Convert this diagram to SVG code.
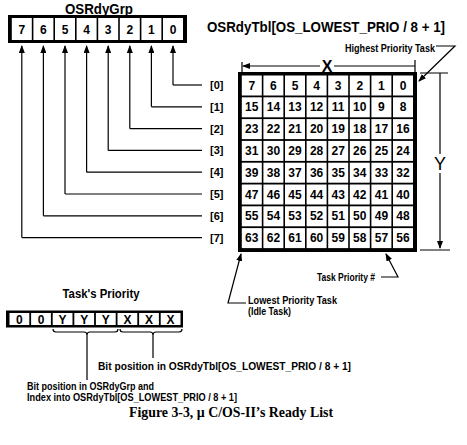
<svg xmlns="http://www.w3.org/2000/svg" width="467" height="445" viewBox="0 0 467 445">
<defs>
<marker id="ah" markerWidth="8" markerHeight="6" refX="7" refY="3" orient="auto" markerUnits="userSpaceOnUse">
<path d="M0,0 L8,3 L0,6 z" fill="#000"/>
</marker>
<style>
.t{font-family:"Liberation Sans",Arial,sans-serif;font-weight:bold;fill:#000}
.c{font-family:"Liberation Sans",Arial,sans-serif;font-weight:bold;font-size:12px;text-anchor:middle;fill:#000}
.l{font-family:"Liberation Sans",Arial,sans-serif;font-weight:bold;font-size:11px;fill:#000}
.ln{fill:none;stroke:#000;stroke-width:1.2}
.cell{fill:#fff}
</style>
</defs>
<rect width="467" height="445" fill="#fff"/>

<g id="osrdygrp">
<text class="t" x="99" y="14" font-size="15" text-anchor="middle" textLength="68" lengthAdjust="spacingAndGlyphs">OSRdyGrp</text>
<rect x="8" y="15" width="179" height="28" fill="#000"/>
<rect class="cell" x="11.8" y="18" width="20" height="22"/>
<rect class="cell" x="33.4" y="18" width="20" height="22"/>
<rect class="cell" x="55" y="18" width="20" height="22"/>
<rect class="cell" x="76.6" y="18" width="20" height="22"/>
<rect class="cell" x="98.2" y="18" width="20" height="22"/>
<rect class="cell" x="119.8" y="18" width="20" height="22"/>
<rect class="cell" x="141.4" y="18" width="20" height="22"/>
<rect class="cell" x="163" y="18" width="20" height="22"/>
<text class="c" x="21.8" y="34">7</text>
<text class="c" x="43.4" y="34">6</text>
<text class="c" x="65" y="34">5</text>
<text class="c" x="86.6" y="34">4</text>
<text class="c" x="108.2" y="34">3</text>
<text class="c" x="129.8" y="34">2</text>
<text class="c" x="151.4" y="34">1</text>
<text class="c" x="173" y="34">0</text>
</g>

<g id="connectors">
<path class="ln" d="M173,85 V46" marker-end="url(#ah)"/><path class="ln" d="M173,85 H202"/>
<path class="ln" d="M151.4,106.8 V46" marker-end="url(#ah)"/><path class="ln" d="M151.4,106.8 H202"/>
<path class="ln" d="M129.8,128.6 V46" marker-end="url(#ah)"/><path class="ln" d="M129.8,128.6 H202"/>
<path class="ln" d="M108.2,150.4 V46" marker-end="url(#ah)"/><path class="ln" d="M108.2,150.4 H202"/>
<path class="ln" d="M86.6,172.2 V46" marker-end="url(#ah)"/><path class="ln" d="M86.6,172.2 H202"/>
<path class="ln" d="M65,194 V46" marker-end="url(#ah)"/><path class="ln" d="M65,194 H202"/>
<path class="ln" d="M43.4,215.8 V46" marker-end="url(#ah)"/><path class="ln" d="M43.4,215.8 H202"/>
<path class="ln" d="M21.8,237.6 V46" marker-end="url(#ah)"/><path class="ln" d="M21.8,237.6 H202"/>

<path class="ln" d="M415,66 H243" marker-end="url(#ah)"/>
<path class="ln" d="M242,62 V72 M415,60 V72"/>
<path class="ln" d="M420,73 H448 M420,250 H450"/>
<path class="ln" d="M440,73 V154"/>
<path class="ln" d="M440,173 V248" marker-end="url(#ah)"/>
<path class="ln" d="M436,46 H455 L419,81" marker-end="url(#ah)"/>
<path class="ln" d="M246,303 H228 L241,254" marker-end="url(#ah)"/>
<path class="ln" d="M381,277 H398 L386,254" marker-end="url(#ah)"/>
<path class="ln" d="M53,329 Q53,332 56,332 H84 Q87,332 87,335 Q87,332 90,332 H115 Q118,332 118,329"/>
<path class="ln" d="M120,329 Q120,332 123,332 H150 Q153,332 153,335 Q153,332 156,332 H179 Q182,332 182,329"/>
<path class="ln" d="M87,335 V380 M153,335 V358"/>
</g>

<g id="row-labels">
<text class="l" x="210" y="89">[0]</text>
<text class="l" x="210" y="110.8">[1]</text>
<text class="l" x="210" y="132.6">[2]</text>
<text class="l" x="210" y="154.4">[3]</text>
<text class="l" x="210" y="176.2">[4]</text>
<text class="l" x="210" y="198">[5]</text>
<text class="l" x="210" y="219.8">[6]</text>
<text class="l" x="210" y="241.6">[7]</text>
</g>

<g id="osrdytbl">
<text class="t" x="207" y="32" font-size="14.5" textLength="238" lengthAdjust="spacingAndGlyphs">OSRdyTbl[OS_LOWEST_PRIO / 8 + 1]</text>
<rect x="238" y="72" width="179" height="180" fill="#000"/>
<g fill="#fff">
<rect x="241.8" y="75.5" width="20" height="20"/><rect x="263.4" y="75.5" width="20" height="20"/><rect x="285" y="75.5" width="20" height="20"/><rect x="306.6" y="75.5" width="20" height="20"/><rect x="328.2" y="75.5" width="20" height="20"/><rect x="349.8" y="75.5" width="20" height="20"/><rect x="371.4" y="75.5" width="20" height="20"/><rect x="393" y="75.5" width="20" height="20"/>
<rect x="241.8" y="97.3" width="20" height="20"/><rect x="263.4" y="97.3" width="20" height="20"/><rect x="285" y="97.3" width="20" height="20"/><rect x="306.6" y="97.3" width="20" height="20"/><rect x="328.2" y="97.3" width="20" height="20"/><rect x="349.8" y="97.3" width="20" height="20"/><rect x="371.4" y="97.3" width="20" height="20"/><rect x="393" y="97.3" width="20" height="20"/>
<rect x="241.8" y="119.1" width="20" height="20"/><rect x="263.4" y="119.1" width="20" height="20"/><rect x="285" y="119.1" width="20" height="20"/><rect x="306.6" y="119.1" width="20" height="20"/><rect x="328.2" y="119.1" width="20" height="20"/><rect x="349.8" y="119.1" width="20" height="20"/><rect x="371.4" y="119.1" width="20" height="20"/><rect x="393" y="119.1" width="20" height="20"/>
<rect x="241.8" y="140.9" width="20" height="20"/><rect x="263.4" y="140.9" width="20" height="20"/><rect x="285" y="140.9" width="20" height="20"/><rect x="306.6" y="140.9" width="20" height="20"/><rect x="328.2" y="140.9" width="20" height="20"/><rect x="349.8" y="140.9" width="20" height="20"/><rect x="371.4" y="140.9" width="20" height="20"/><rect x="393" y="140.9" width="20" height="20"/>
<rect x="241.8" y="162.7" width="20" height="20"/><rect x="263.4" y="162.7" width="20" height="20"/><rect x="285" y="162.7" width="20" height="20"/><rect x="306.6" y="162.7" width="20" height="20"/><rect x="328.2" y="162.7" width="20" height="20"/><rect x="349.8" y="162.7" width="20" height="20"/><rect x="371.4" y="162.7" width="20" height="20"/><rect x="393" y="162.7" width="20" height="20"/>
<rect x="241.8" y="184.5" width="20" height="20"/><rect x="263.4" y="184.5" width="20" height="20"/><rect x="285" y="184.5" width="20" height="20"/><rect x="306.6" y="184.5" width="20" height="20"/><rect x="328.2" y="184.5" width="20" height="20"/><rect x="349.8" y="184.5" width="20" height="20"/><rect x="371.4" y="184.5" width="20" height="20"/><rect x="393" y="184.5" width="20" height="20"/>
<rect x="241.8" y="206.3" width="20" height="20"/><rect x="263.4" y="206.3" width="20" height="20"/><rect x="285" y="206.3" width="20" height="20"/><rect x="306.6" y="206.3" width="20" height="20"/><rect x="328.2" y="206.3" width="20" height="20"/><rect x="349.8" y="206.3" width="20" height="20"/><rect x="371.4" y="206.3" width="20" height="20"/><rect x="393" y="206.3" width="20" height="20"/>
<rect x="241.8" y="228.1" width="20" height="20"/><rect x="263.4" y="228.1" width="20" height="20"/><rect x="285" y="228.1" width="20" height="20"/><rect x="306.6" y="228.1" width="20" height="20"/><rect x="328.2" y="228.1" width="20" height="20"/><rect x="349.8" y="228.1" width="20" height="20"/><rect x="371.4" y="228.1" width="20" height="20"/><rect x="393" y="228.1" width="20" height="20"/>
</g>
<text class="c" y="89.5"><tspan x="251.8">7</tspan><tspan x="273.4">6</tspan><tspan x="295">5</tspan><tspan x="316.6">4</tspan><tspan x="338.2">3</tspan><tspan x="359.8">2</tspan><tspan x="381.4">1</tspan><tspan x="403">0</tspan></text>
<text class="c" y="111.3"><tspan x="251.8">15</tspan><tspan x="273.4">14</tspan><tspan x="295">13</tspan><tspan x="316.6">12</tspan><tspan x="338.2">11</tspan><tspan x="359.8">10</tspan><tspan x="381.4">9</tspan><tspan x="403">8</tspan></text>
<text class="c" y="133.1"><tspan x="251.8">23</tspan><tspan x="273.4">22</tspan><tspan x="295">21</tspan><tspan x="316.6">20</tspan><tspan x="338.2">19</tspan><tspan x="359.8">18</tspan><tspan x="381.4">17</tspan><tspan x="403">16</tspan></text>
<text class="c" y="154.9"><tspan x="251.8">31</tspan><tspan x="273.4">30</tspan><tspan x="295">29</tspan><tspan x="316.6">28</tspan><tspan x="338.2">27</tspan><tspan x="359.8">26</tspan><tspan x="381.4">25</tspan><tspan x="403">24</tspan></text>
<text class="c" y="176.7"><tspan x="251.8">39</tspan><tspan x="273.4">38</tspan><tspan x="295">37</tspan><tspan x="316.6">36</tspan><tspan x="338.2">35</tspan><tspan x="359.8">34</tspan><tspan x="381.4">33</tspan><tspan x="403">32</tspan></text>
<text class="c" y="198.5"><tspan x="251.8">47</tspan><tspan x="273.4">46</tspan><tspan x="295">45</tspan><tspan x="316.6">44</tspan><tspan x="338.2">43</tspan><tspan x="359.8">42</tspan><tspan x="381.4">41</tspan><tspan x="403">40</tspan></text>
<text class="c" y="220.3"><tspan x="251.8">55</tspan><tspan x="273.4">54</tspan><tspan x="295">53</tspan><tspan x="316.6">52</tspan><tspan x="338.2">51</tspan><tspan x="359.8">50</tspan><tspan x="381.4">49</tspan><tspan x="403">48</tspan></text>
<text class="c" y="242.1"><tspan x="251.8">63</tspan><tspan x="273.4">62</tspan><tspan x="295">61</tspan><tspan x="316.6">60</tspan><tspan x="338.2">59</tspan><tspan x="359.8">58</tspan><tspan x="381.4">57</tspan><tspan x="403">56</tspan></text>
</g>

<g id="dimension-labels">
<rect x="320" y="58" width="14" height="14" fill="#fff"/>
<text class="t" x="327" y="72" font-size="16" text-anchor="middle">X</text>
<text x="440" y="170" font-family="Liberation Sans, Arial, sans-serif" font-size="18" text-anchor="middle">Y</text>
</g>

<g id="annotations">
<text class="l" x="345" y="52" textLength="90" lengthAdjust="spacingAndGlyphs">Highest Priority Task</text>
<text class="l" x="317" y="281" textLength="58" lengthAdjust="spacingAndGlyphs">Task Priority #</text>
<text class="l" x="248" y="304" textLength="89" lengthAdjust="spacingAndGlyphs">Lowest Priority Task</text>
<text class="l" x="248" y="315" textLength="43" lengthAdjust="spacingAndGlyphs">(Idle Task)</text>
</g>

<g id="task-priority">
<text class="t" x="101" y="298" font-size="13" text-anchor="middle" textLength="77" lengthAdjust="spacingAndGlyphs">Task's Priority</text>
<rect x="6" y="310.5" width="177" height="17" fill="#000"/>
<g fill="#fff">
<rect x="9.5" y="313" width="19.8" height="12"/><rect x="31.1" y="313" width="19.8" height="12"/><rect x="52.7" y="313" width="19.8" height="12"/><rect x="74.3" y="313" width="19.8" height="12"/><rect x="95.9" y="313" width="19.8" height="12"/><rect x="117.5" y="313" width="19.8" height="12"/><rect x="139.1" y="313" width="19.8" height="12"/><rect x="160.7" y="313" width="19.8" height="12"/>
</g>
<text class="c" y="323.5"><tspan x="19.4">0</tspan><tspan x="41">0</tspan><tspan x="62.6">Y</tspan><tspan x="84.2">Y</tspan><tspan x="105.8">Y</tspan><tspan x="127.4">X</tspan><tspan x="149">X</tspan><tspan x="170.6">X</tspan></text>
<text class="l" x="98" y="370" textLength="253" lengthAdjust="spacingAndGlyphs">Bit position in OSRdyTbl[OS_LOWEST_PRIO / 8 + 1]</text>
<text class="l" x="27" y="390" font-size="10.5" textLength="127" lengthAdjust="spacingAndGlyphs">Bit position in OSRdyGrp and</text>
<text class="l" x="27" y="400.5" font-size="10.5" textLength="210" lengthAdjust="spacingAndGlyphs">Index into OSRdyTbl[OS_LOWEST_PRIO / 8 + 1]</text>
</g>

<g id="caption">
<text x="231" y="417" font-family="Liberation Serif, Times New Roman, serif" font-weight="bold" font-size="14" text-anchor="middle" textLength="204" lengthAdjust="spacingAndGlyphs">Figure 3-3, µ C/OS-II’s Ready List</text>
</g>
</svg>
